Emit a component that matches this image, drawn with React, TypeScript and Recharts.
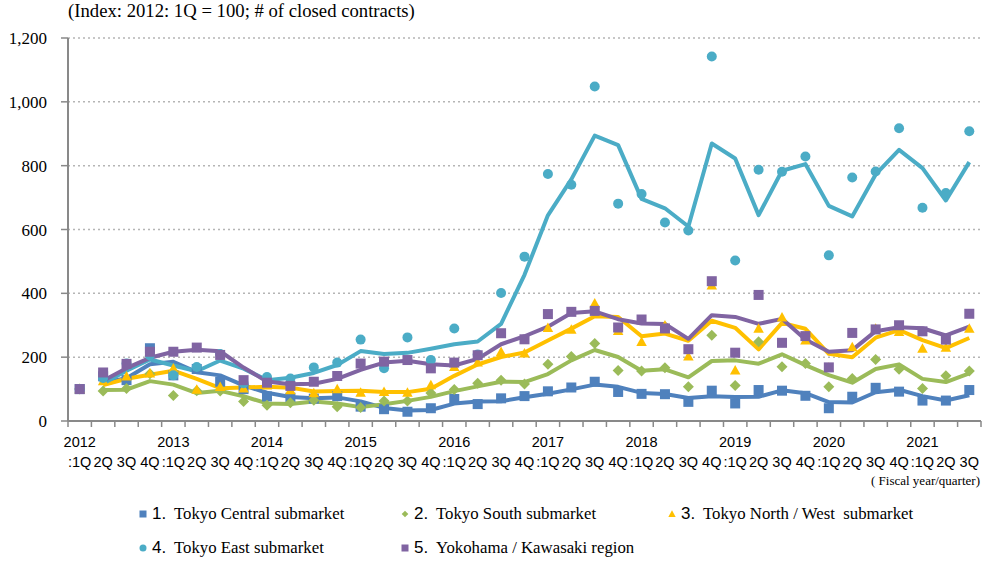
import React from 'react';
import { ComposedChart, Line, Scatter, XAxis, YAxis, CartesianGrid } from 'recharts';

const quarters = [
  '2012:1Q', '2012:2Q', '2012:3Q', '2012:4Q',
  '2013:1Q', '2013:2Q', '2013:3Q', '2013:4Q',
  '2014:1Q', '2014:2Q', '2014:3Q', '2014:4Q',
  '2015:1Q', '2015:2Q', '2015:3Q', '2015:4Q',
  '2016:1Q', '2016:2Q', '2016:3Q', '2016:4Q',
  '2017:1Q', '2017:2Q', '2017:3Q', '2017:4Q',
  '2018:1Q', '2018:2Q', '2018:3Q', '2018:4Q',
  '2019:1Q', '2019:2Q', '2019:3Q', '2019:4Q',
  '2020:1Q', '2020:2Q', '2020:3Q', '2020:4Q',
  '2021:1Q', '2021:2Q', '2021:3Q',
];

const tokyoCentral = [100, 140, 128, 228, 143, 163, 123, 100, 77, 73, 70, 78, 45, 37, 29, 40, 69, 53, 71, 78, 93, 105, 123, 91, 85, 84, 60, 95, 55, 97, 95, 79, 40, 76, 104, 92, 64, 64, 97];
const tokyoSouth = [100, 94, 102, 148, 80, 95, 94, 61, 49, 57, 65, 45, 42, 63, 63, 88, 99, 118, 128, 116, 178, 202, 243, 158, 157, 167, 107, 269, 111, 248, 170, 180, 107, 133, 193, 162, 102, 142, 157];
const tokyoNorthWest = [100, 125, 140, 150, 165, 99, 107, 103, 112, 97, 88, 100, 89, 92, 89, 113, 170, 184, 217, 212, 292, 287, 369, 283, 248, 300, 203, 425, 159, 290, 325, 253, 168, 232, 290, 280, 227, 230, 290];
const tokyoEast = [100, 135, 180, 205, 143, 169, 210, 118, 138, 133, 168, 183, 255, 165, 262, 191, 290, 208, 401, 515, 774, 740, 1048, 681, 711, 622, 597, 1142, 503, 787, 781, 829, 519, 763, 782, 917, 668, 714, 908];
const yokohamaKawasaki = [100, 152, 179, 217, 217, 230, 207, 128, 120, 110, 123, 141, 180, 186, 191, 165, 183, 206, 275, 256, 335, 342, 345, 293, 318, 290, 225, 438, 214, 395, 245, 266, 168, 276, 287, 300, 281, 255, 336];

const yTicks = [0, 200, 400, 600, 800, 1000, 1200];

type Shape = 'square' | 'diamond' | 'triangle' | 'circle';

const series: { key: string; num: string; name: string; color: string; shape: Shape; values: number[] }[] = [
  { key: 'central', num: '1', name: 'Tokyo Central submarket', color: '#4F81BD', shape: 'square', values: tokyoCentral },
  { key: 'south', num: '2', name: 'Tokyo South submarket', color: '#9BBB59', shape: 'diamond', values: tokyoSouth },
  { key: 'northwest', num: '3', name: 'Tokyo North / West  submarket', color: '#FFC000', shape: 'triangle', values: tokyoNorthWest },
  { key: 'east', num: '4', name: 'Tokyo East submarket', color: '#4BACC6', shape: 'circle', values: tokyoEast },
  { key: 'yokohama', num: '5', name: 'Yokohama / Kawasaki region', color: '#8064A2', shape: 'square', values: yokohamaKawasaki },
];

// 2-quarter moving average trend line (as in the source chart)
const movingAverage = (vals: number[]) => vals.map((v, i) => (i === 0 ? null : (vals[i - 1] + v) / 2));

const data = quarters.map((q, i) => {
  const row: Record<string, any> = { q };
  series.forEach((s) => {
    row[s.key] = s.values[i];
    row[s.key + 'MA'] = movingAverage(s.values)[i];
  });
  return row;
});

const AXIS = '#898989';
const SERIF = "'Liberation Serif', 'Times New Roman', serif";
const SANS = "'Liberation Sans', Arial, sans-serif";
const PLOT_LEFT = 68;
const PLOT_RIGHT = 981;
const STEP = (PLOT_RIGHT - PLOT_LEFT) / quarters.length;

const Marker = ({ shape, color, cx, cy, size }: { shape: Shape; color: string; cx: number; cy: number; size: number }) => {
  const h = size / 2;
  if (shape === 'square') return <rect x={cx - h} y={cy - h} width={size} height={size} fill={color} />;
  if (shape === 'diamond') {
    const r = h * 1.1;
    return <polygon points={`${cx},${cy - r} ${cx + r},${cy} ${cx},${cy + r} ${cx - r},${cy}`} fill={color} />;
  }
  if (shape === 'triangle') {
    return <polygon points={`${cx},${cy - h * 1.05} ${cx + h * 1.05},${cy + h * 0.85} ${cx - h * 1.05},${cy + h * 0.85}`} fill={color} />;
  }
  return <circle cx={cx} cy={cy} r={h} fill={color} />;
};

const makeShape = (shape: Shape, color: string) => (props: any) => {
  if (props.cx == null || props.cy == null) return <g />;
  return <Marker shape={shape} color={color} cx={props.cx} cy={props.cy} size={10} />;
};

const XTick = (props: any) => {
  const { x, y, payload, index } = props;
  const [yr, q] = String(payload.value).split(':');
  const first = q === '1Q';
  return (
    <g>
      <line x1={x - STEP / 2} x2={x - STEP / 2} y1={y} y2={y + 6} stroke={AXIS} strokeWidth={1.5} />
      {index === quarters.length - 1 && (
        <line x1={x + STEP / 2} x2={x + STEP / 2} y1={y} y2={y + 6} stroke={AXIS} strokeWidth={1.5} />
      )}
      {first && (
        <text x={x} y={y + 26} textAnchor="middle" fontFamily={SANS} fontSize={14.5} fill="#000">
          {yr}
        </text>
      )}
      <text x={x} y={y + 46} textAnchor="middle" fontFamily={SANS} fontSize={14.5} fill="#000">
        {first ? ':1Q' : q}
      </text>
    </g>
  );
};

const legendPos = [
  { left: 143, top: 514 },
  { left: 405, top: 514 },
  { left: 672, top: 514 },
  { left: 143, top: 548 },
  { left: 405, top: 548 },
];

export default function App() {
  return (
    <div style={{ position: 'absolute', left: 0, top: 0, width: 990, height: 561, background: '#fff' }}>
      <div
        style={{
          position: 'absolute',
          left: 68,
          top: -1,
          fontFamily: SERIF,
          fontSize: 18.7,
          lineHeight: '24px',
          color: '#000',
          whiteSpace: 'pre',
        }}
      >
        (Index: 2012: 1Q = 100; # of closed contracts)
      </div>
      <ComposedChart width={990} height={561} data={data} margin={{ top: 38, right: 9, bottom: 90, left: 0 }}>
        <CartesianGrid vertical={false} stroke="#b5b5b5" strokeDasharray="2 3" strokeWidth={1.5} />
        <XAxis
          dataKey="q"
          interval={0}
          height={50}
          padding={{ left: STEP / 2, right: STEP / 2 }}
          tickLine={false}
          tickSize={0}
          tickMargin={0}
          axisLine={{ stroke: AXIS, strokeWidth: 2 }}
          tick={<XTick />}
        />
        <YAxis
          width={68}
          domain={[0, 1200]}
          ticks={yTicks}
          interval={0}
          tickSize={7}
          tickMargin={14}
          tickLine={{ stroke: AXIS, strokeWidth: 1.5 }}
          axisLine={{ stroke: AXIS, strokeWidth: 2 }}
          tickFormatter={(v: number) => v.toLocaleString('en-US')}
          tick={{ fontFamily: SERIF, fontSize: 17, fill: '#000' }}
        />
        {series.map((s) => (
          <Scatter
            key={s.key}
            dataKey={s.key}
            fill={s.color}
            shape={makeShape(s.shape, s.color)}
            isAnimationActive={false}
          />
        ))}
        {series.map((s) => (
          <Line
            key={s.key + 'MA'}
            dataKey={s.key + 'MA'}
            type="linear"
            stroke={s.color}
            strokeWidth={4}
            strokeLinejoin="round"
            dot={false}
            activeDot={false}
            isAnimationActive={false}
          />
        ))}
      </ComposedChart>
      <div
        style={{
          position: 'absolute',
          right: 10,
          top: 472,
          fontFamily: SERIF,
          fontSize: 13,
          lineHeight: '18px',
          color: '#000',
          whiteSpace: 'pre',
        }}
      >
        ( Fiscal year/quarter)
      </div>
      {series.map((s, i) => (
        <div key={s.key} style={{ position: 'absolute', left: legendPos[i].left - 6, top: legendPos[i].top - 12, height: 24, display: 'flex', alignItems: 'center', whiteSpace: 'pre', color: '#000' }}>
          <svg width={12} height={12} style={{ display: 'block' }}>
            <Marker shape={s.shape} color={s.color} cx={6} cy={6} size={s.shape === 'diamond' ? 6 : 7} />
          </svg>
          <span style={{ fontFamily: SANS, fontSize: 17, width: 22, marginLeft: 3, display: 'inline-block' }}>{s.num}.</span>
          <span style={{ fontFamily: SERIF, fontSize: 16.8 }}>{s.name}</span>
        </div>
      ))}
    </div>
  );
}
